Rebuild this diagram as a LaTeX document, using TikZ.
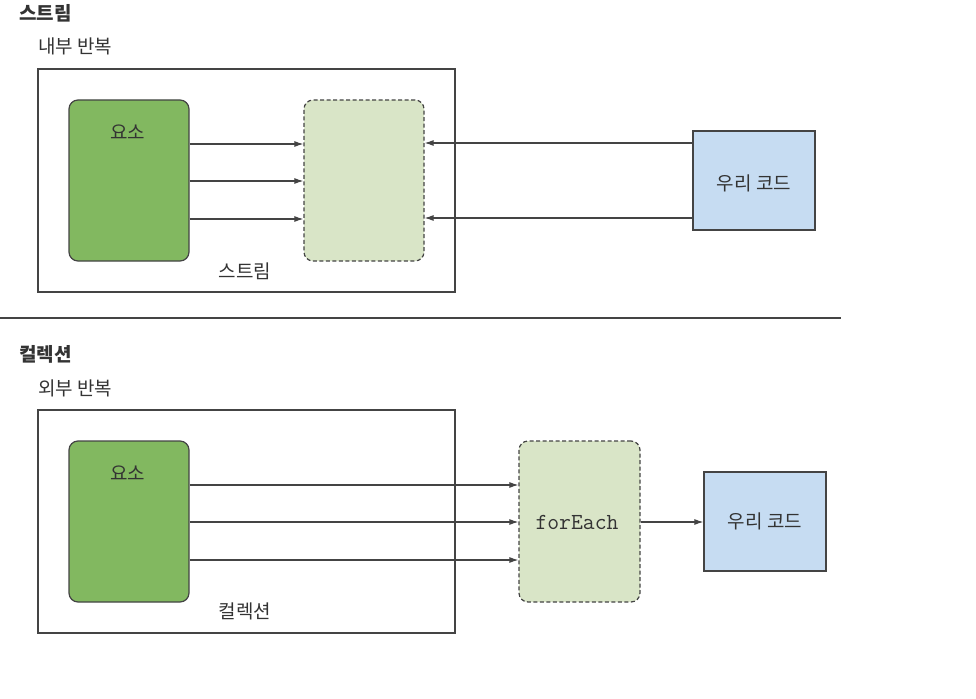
\documentclass[tikz,border=0pt]{standalone}
\usepackage{fontspec}
\setmainfont{Noto Sans CJK KR}
\usetikzlibrary{arrows.meta}
\definecolor{elemgreen}{HTML}{82B860}
\definecolor{lightgreen}{HTML}{D9E5C7}
\definecolor{codeblue}{HTML}{C6DCF2}
\definecolor{edgegray}{HTML}{444444}
\definecolor{txtgray}{HTML}{333333}
\tikzset{
  px/.style={x=1pt,y=-1pt},
  frame/.style={draw=edgegray,line width=1.2pt},
  elembox/.style={draw=edgegray,fill=elemgreen,rounded corners=9pt,line width=1.2pt},
  pipebox/.style={draw=edgegray,fill=lightgreen,rounded corners=9pt,dash pattern=on 4pt off 2.5pt,line width=1.2pt},
  codebox/.style={draw=edgegray,fill=codeblue,line width=1.2pt},
  conn/.style={draw=edgegray,line width=1.1pt,-{Latex[length=9pt,width=6pt]}},
  lbl/.style={font=\fontsize{19}{21}\selectfont,text=txtgray,inner sep=0pt},
  ttl/.style={font=\fontsize{19}{21}\selectfont\bfseries,text=txtgray,inner sep=0pt,anchor=west},
}
\begin{document}
\begin{tikzpicture}[px]
\useasboundingbox (0,0) rectangle (976,698);
% ---------- stream ----------
\node[ttl] (t1) at (19,13) {스트림};
\node[lbl,anchor=west] (s1) at (38,46) {내부 반복};
\draw[frame] (38,69) rectangle (455,292);
\node[elembox,minimum width=120pt,minimum height=161pt] (e1) at (129,180.5) {};
\node[lbl] (e1l) at (127.5,132) {요소};
\node[pipebox,minimum width=120pt,minimum height=161pt] (p1) at (364,180.5) {};
\node[lbl] (st1) at (245,271) {스트림};
\node[codebox,minimum width=122pt,minimum height=99pt] (c1) at (754,180.5) {};
\node[lbl] (c1l) at (754,183) {우리 코드};
\foreach \yy in {144,181,219}{
  \draw[conn] (e1.east |- 0,\yy) -- (p1.west |- 0,\yy);
}
\draw[conn] (c1.west |- 0,143) -- (p1.east |- 0,143);
\draw[conn] (c1.west |- 0,218) -- (p1.east |- 0,218);
% separator
\coordinate (sepL) at (0,318);
\coordinate (sepR) at (841,318);
\draw[draw=edgegray,line width=1.1pt] (sepL) -- (sepR);
% ---------- collection ----------
\node[ttl] (t2) at (19,354) {컬렉션};
\node[lbl,anchor=west] (s2) at (38,388) {외부 반복};
\draw[frame] (38,410) rectangle (455,633);
\node[elembox,minimum width=120pt,minimum height=161pt] (e2) at (129,521.5) {};
\node[lbl] (e2l) at (127.5,473) {요소};
\node[pipebox,minimum width=121pt,minimum height=161pt] (p2) at (579.5,521.5) {};
\node[font=\fontsize{23}{25}\selectfont\ttfamily,text=txtgray,inner sep=0pt] (fe) at (577,522) {forEach};
\node[lbl] (st2) at (245,611) {컬렉션};
\node[codebox,minimum width=122pt,minimum height=99pt] (c2) at (765,521.5) {};
\node[lbl] (c2l) at (765,521) {우리 코드};
\foreach \yy in {485,522,560}{
  \draw[conn] (e2.east |- 0,\yy) -- (p2.west |- 0,\yy);
}
\draw[conn] (p2.east |- 0,522) -- (c2.west |- 0,522);
\end{tikzpicture}
\end{document}
